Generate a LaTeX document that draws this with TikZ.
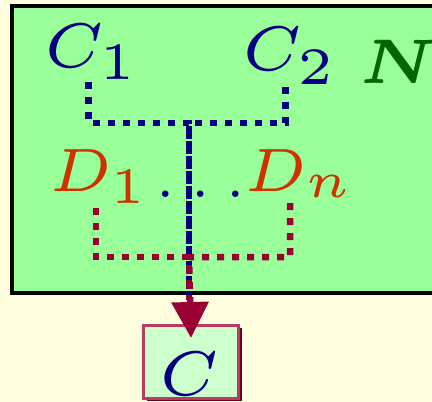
\documentclass[tikz,border=0pt]{standalone}
\usepackage{bm}
\usepackage{graphicx}
\usetikzlibrary{arrows.meta,shadows}
\newcommand\stx[1]{\scalebox{10.5}{#1}}
\newcommand\stxd[1]{\scalebox{10.2}{#1}}
\definecolor{bgyellow}{RGB}{255,255,224}
\definecolor{greenfill}{RGB}{153,255,153}
\definecolor{navyc}{RGB}{0,0,128}
\definecolor{orangec}{RGB}{204,51,0}
\definecolor{darkgreenc}{RGB}{0,100,0}
\definecolor{magc}{RGB}{153,0,51}
\definecolor{boxfill}{RGB}{204,255,204}
\definecolor{boxborder}{RGB}{184,60,96}
\definecolor{shadowc}{RGB}{110,0,40}
\begin{document}
\begin{tikzpicture}[x=1pt,y=-1pt,
  lbl/.style={inner sep=0pt, anchor=base west, font=\fontsize{6}{7}\selectfont},
  bluedot/.style={draw=navyc, line width=6.5pt, dash pattern=on 7pt off 8pt},
  magdot/.style={draw=magc, line width=6.5pt, dash pattern=on 7pt off 8pt},
  cbox/.style={draw=boxborder, line width=3pt, fill=boxfill, inner sep=0pt,
    minimum width=95pt, text height=70.5pt, text depth=2.5pt,
    font=\fontsize{6}{7}\selectfont, text=navyc,
    drop shadow={shadow xshift=3pt, shadow yshift=-3pt, fill=shadowc, opacity=1}}]
\fill[bgyellow] (0,0) rectangle (432,402);
\useasboundingbox (0,0) rectangle (432,402);
\draw[line width=4pt, fill=greenfill] (12,6) rectangle (445,293);
% labels
\node[lbl, text=navyc] (C1) at (44,67.5) {\stx{$C_1$}};
\node[lbl, text=navyc] (C2) at (242,70.5) {\stx{$C_{\raisebox{-0.33pt}{$\scriptstyle 2$}}$}};
\node[lbl, text=darkgreenc] (N) at (359,83) {\stx{$\bm{N}$}};
\node[lbl, text=orangec] (D1) at (49,191.7) {\stxd{$D_1$}};
\node[lbl, text=navyc] (dots) at (155,197.5) {\scalebox{9}{$.\mkern3.8mu.\mkern3.8mu.$}};
\node[lbl, text=orangec] (Dn) at (244,191.7) {\stxd{$D_{\raisebox{0.43pt}{$\scriptstyle n$}}$}};
% box C
\node[cbox, anchor=north] (Cbox) at (191,323.5) {\stx{$C$}\kern3pt};
% connector points
\coordinate (c1s) at (88.5,82);
\coordinate (c2s) at (285.5,87);
\coordinate (jb) at (189,123);
\coordinate (bend) at (189,300);
\coordinate (d1s) at (96,208);
\coordinate (dns) at (290,203);
\coordinate (jm) at (189,257);
\coordinate (tip) at ([yshift=-14.5pt]Cbox.north);
% blue connectors
\draw[bluedot] (c1s) |- (jb) -- (bend);
\draw[bluedot] (c2s) |- (jb) -- (bend);
% magenta connectors
\draw[magdot] (d1s) |- (jm) -- (bend);
\draw[magdot, -{Triangle[width=36pt,length=36pt]}] (dns) |- (jm) -- (tip);
\end{tikzpicture}
\end{document}
